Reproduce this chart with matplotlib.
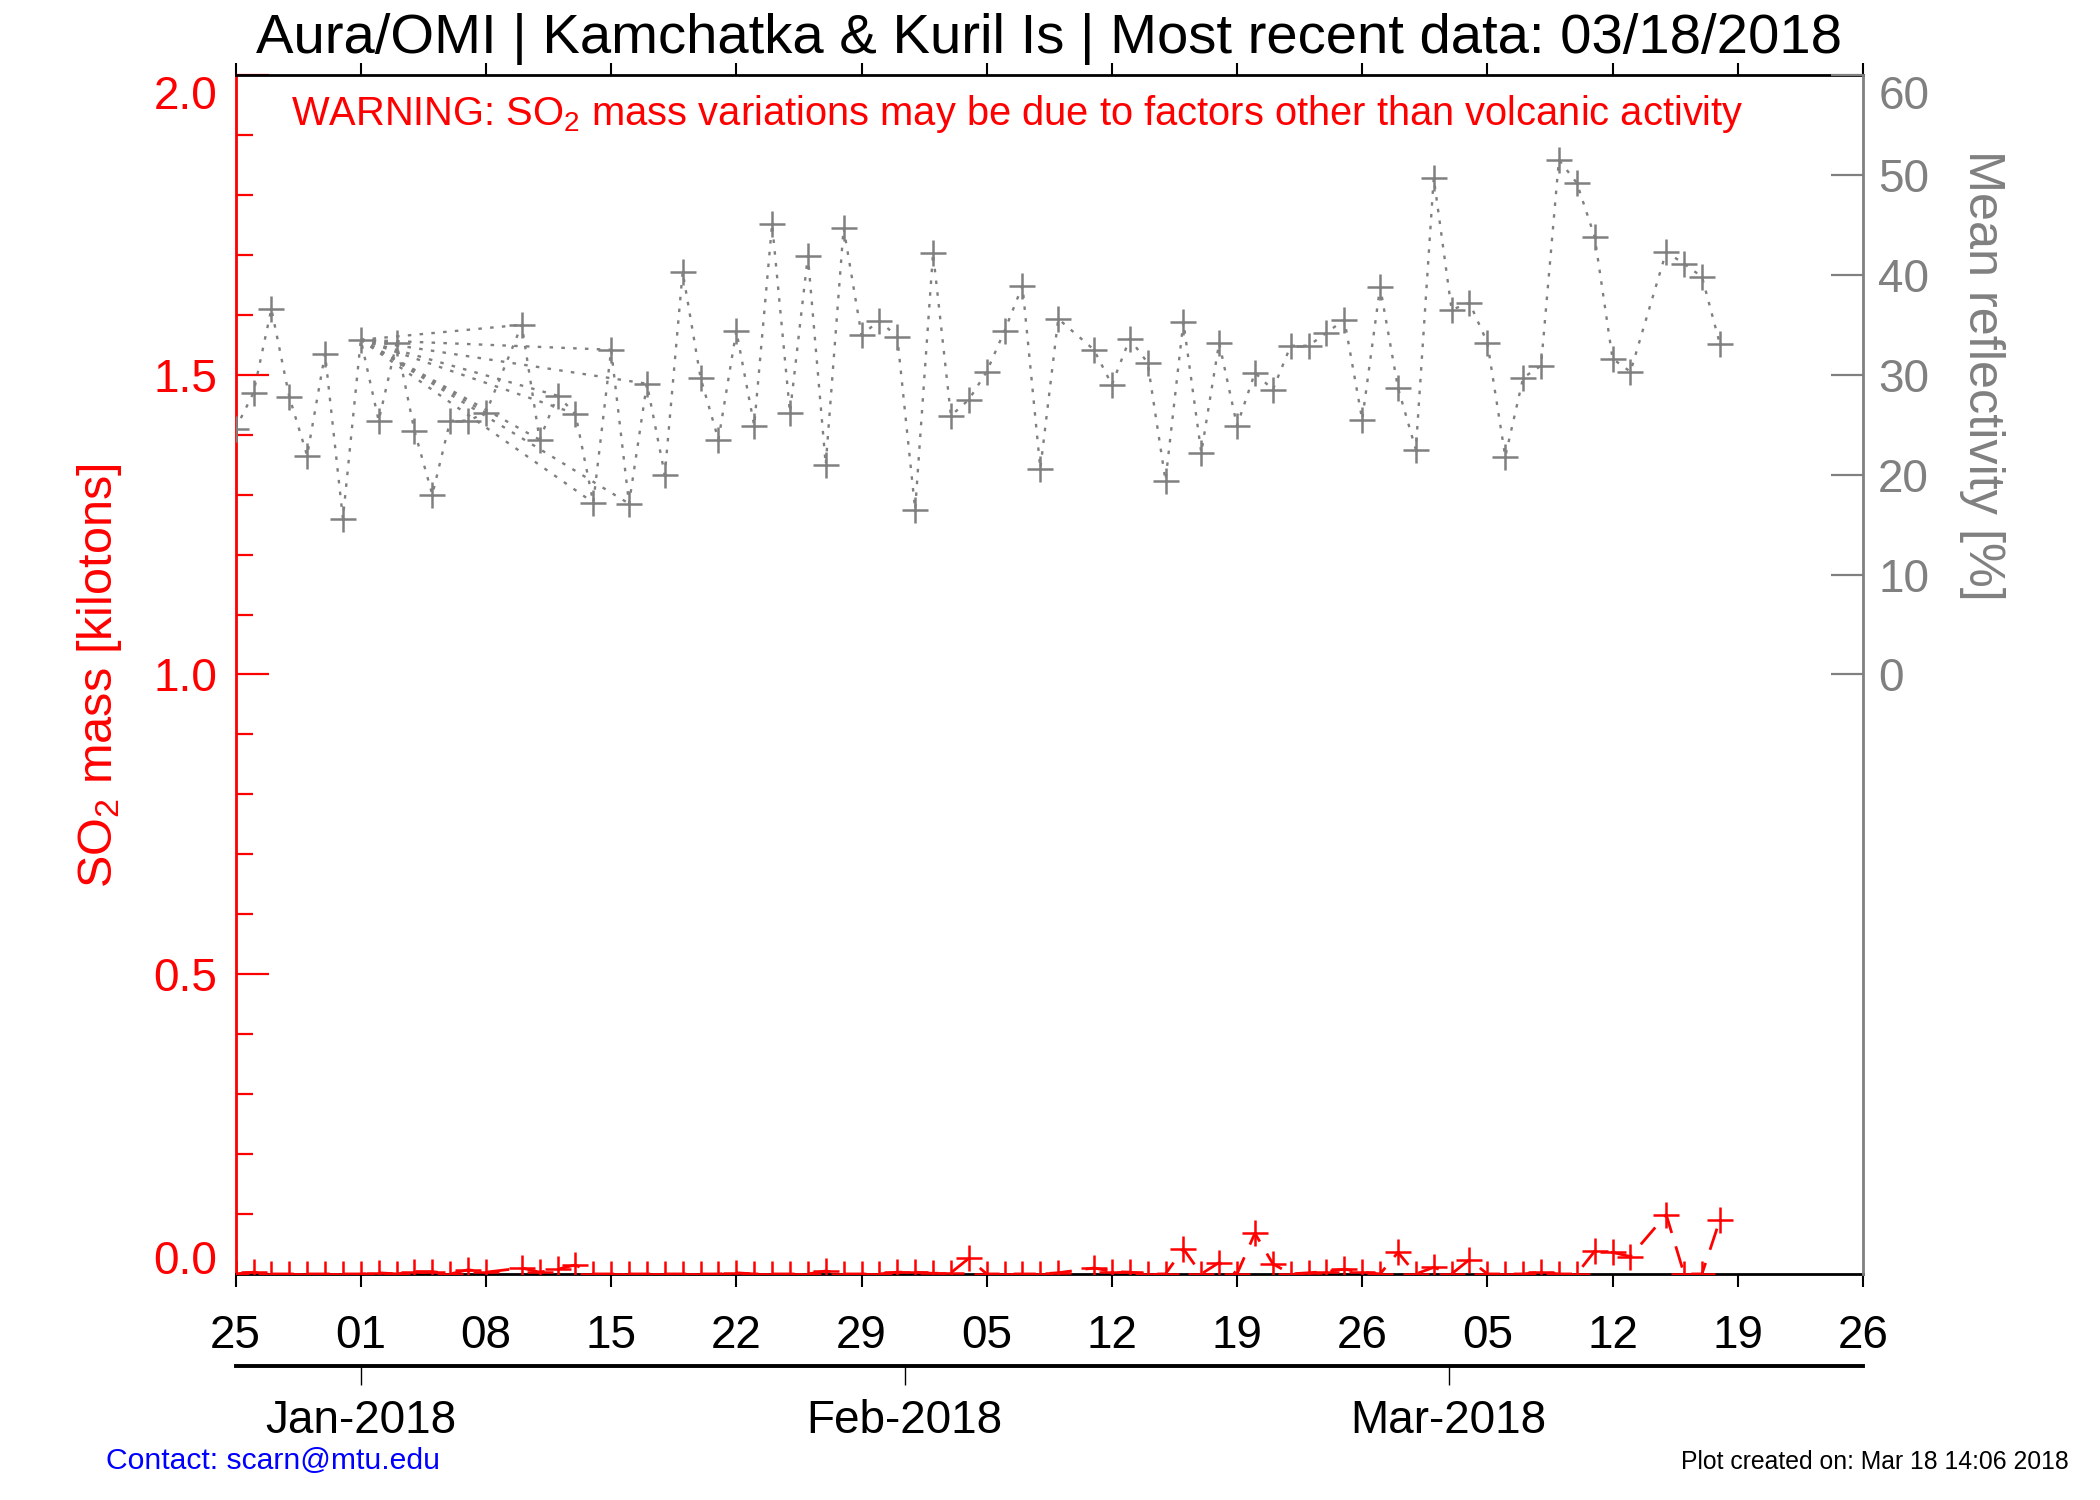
import datetime as dt

import matplotlib
matplotlib.use("Agg")

import matplotlib.pyplot as plt
import numpy as np


plt.rcParams["font.family"] = ["Liberation Sans", "DejaVu Sans"]
plt.rcParams["mathtext.fontset"] = "custom"
plt.rcParams["mathtext.rm"] = "Liberation Sans"
plt.rcParams["mathtext.it"] = "Liberation Sans:italic"
plt.rcParams["mathtext.bf"] = "Liberation Sans:bold"


# -----------------------------
# Data
# -----------------------------
obs_dates = (
    ["2017-12-%02d" % d for d in range(25, 32)]
    + ["2018-01-%02d" % d for d in range(1, 32) if d != 9]
    + ["2018-02-%02d" % d for d in range(1, 29) if d != 10]
    + ["2018-03-%02d" % d for d in range(1, 19) if d != 14]
)

# mean reflectivity [%]
reflectivity = [
    24.6, 28.2, 36.6, 27.8, 21.9, 32.1, 15.6,
    33.5, 25.4, 33.2, 24.4, 18.0, 25.4, 25.4, 26.2, 35.0, 23.5,
    27.9, 26.1, 17.2, 32.5, 17.1, 29.1, 20.0, 40.3, 29.7, 23.5,
    34.4, 24.9, 45.1, 26.2, 41.9, 21.0, 44.7, 34.0, 35.4, 33.8,
    16.5, 42.2, 25.9, 27.5, 30.3, 34.4, 38.9, 20.6, 35.6, 32.5,
    29.0, 33.6, 31.2, 19.4, 35.3, 22.2, 33.2, 24.9, 30.2, 28.5,
    32.9, 32.9, 34.2, 35.5, 25.5, 38.8, 28.7,
    22.5, 49.7, 36.5, 37.2, 33.2, 21.8, 29.7, 30.9, 51.5, 49.2,
    43.8, 31.6, 30.3, 42.3, 41.1, 39.8, 33.1,
]

# SO2 mass [kilotons]
so2_mass = [
    0.0, 0.003, 0.0, 0.0, 0.0, 0.0, 0.0,
    0.0, 0.002, 0.0, 0.004, 0.004, 0.0, 0.007, 0.003, 0.010, 0.003,
    0.008, 0.015, 0.0, 0.0, 0.0, 0.0, 0.0, 0.0, 0.0, 0.0,
    0.002, 0.0, 0.0, 0.0, 0.0, 0.005, 0.0, 0.0, 0.0, 0.003,
    0.003, 0.001, 0.002, 0.026, 0.0, 0.0, 0.0, 0.0, 0.002, 0.010,
    0.004, 0.003, 0.0, 0.0, 0.042, 0.0, 0.019, 0.0, 0.068, 0.017,
    0.0, 0.002, 0.004, 0.008, 0.003, 0.0, 0.036,
    0.0, 0.011, 0.0, 0.024, 0.0, 0.0, 0.0, 0.003, 0.0, 0.0,
    0.038, 0.036, 0.029, 0.099, 0.0, 0.0, 0.090,
]

# extra reflectivity segments drawn from one day to several later days
fan_origin = "2018-01-01"
fan_targets = [
    "2018-01-03", "2018-01-08", "2018-01-10", "2018-01-11", "2018-01-12",
    "2018-01-13", "2018-01-14", "2018-01-15", "2018-01-16", "2018-01-17",
]

x_start = "2017-12-25"
x_end = "2018-03-26"
so2_ticks = [0.0, 0.5, 1.0, 1.5, 2.0]
refl_ticks = [0, 10, 20, 30, 40, 50, 60]
month_labels = ["Jan-2018", "Feb-2018", "Mar-2018"]
month_index = [0, 1, 2]  # months after Jan 2018

title = "Aura/OMI | Kamchatka & Kuril Is | Most recent data: 03/18/2018"
warning = (r"WARNING: SO$_{\mathrm{2}}$ mass variations may be due to factors "
           "other than volcanic activity")


def to_date(s):
    return dt.datetime.strptime(s, "%Y-%m-%d")


def dec_year(d):
    jan1 = dt.datetime(d.year, 1, 1)
    return d.year + (d - jan1).days / 365.0


def main():
    dates = [to_date(s) for s in obs_dates]
    refl = np.array(reflectivity)
    so2 = np.array(so2_mass)
    d0, d1 = to_date(x_start), to_date(x_end)

    fig = plt.figure(figsize=(21, 15), dpi=100)
    L, B, W, H = 0.1122, 0.1507, 0.7749, 0.7993
    ax = fig.add_axes([L, B, W, H])
    ax2 = ax.twinx()

    # SO2 mass (red)
    ax.plot(dates, so2, color="red", lw=2.0, ls=(0, (8, 5)),
            marker="+", ms=19, mew=1.8, zorder=3)
    ax.set_ylim(0, 2.0)
    ax.set_xlim(d0, d1)
    ax.set_yticks(so2_ticks)
    ax.set_yticklabels(["%.1f" % v for v in so2_ticks])
    ax.set_yticks(np.arange(0, 2.0001, 0.1), minor=True)
    ax.tick_params(axis="y", which="major", direction="in", colors="red",
                   length=24, width=1.6, labelsize=33, pad=13)
    ax.tick_params(axis="y", which="minor", direction="in", colors="red",
                   length=12, width=1.6)
    ylabels = ax.get_yticklabels()
    ylabels[0].set_va("baseline")
    ylabels[-1].set_va("top")

    weekly = [d0 + dt.timedelta(days=7 * k) for k in range(14)]
    ax.set_xticks(weekly)
    ax.set_xticklabels([w.strftime("%d") for w in weekly])
    ax.tick_params(axis="x", which="major", direction="out", top=True,
                   length=9, width=1.5, labelsize=33, pad=20, colors="black")

    ax.spines["left"].set_color("red")
    ax.spines["left"].set_linewidth(2)
    ax.spines["right"].set_visible(False)
    ax.spines["top"].set_linewidth(2)
    ax.spines["bottom"].set_linewidth(2)

    # mean reflectivity (gray)
    dotted = (0, (1.5, 3.5))
    ax2.plot(dates, refl, color="gray", lw=1.7, ls=dotted,
             marker="+", ms=19, mew=1.8)
    i0 = obs_dates.index(fan_origin)
    for t in fan_targets:
        i1 = obs_dates.index(t)
        ax2.plot([dates[i0], dates[i1]], [refl[i0], refl[i1]],
                 color="gray", lw=1.7, ls=dotted)
    ax2.set_ylim(-60, 60)
    ax2.set_yticks(refl_ticks)
    ax2.set_yticklabels([str(v) for v in refl_ticks])
    ax2.tick_params(axis="y", direction="in", colors="gray", length=23,
                    width=1.6, labelsize=33, pad=11)
    ax2.get_yticklabels()[-1].set_va("top")
    for s in ["left", "top", "bottom"]:
        ax2.spines[s].set_visible(False)
    ax2.spines["right"].set_color("gray")
    ax2.spines["right"].set_linewidth(2)

    # month axis below
    axm = fig.add_axes([L, 0.0893, W, 0.0005])
    axm.patch.set_visible(False)
    axm.set_xlim(dec_year(d0), dec_year(d1))
    axm.set_xticks([2018 + m / 12.0 for m in month_index])
    axm.set_xticklabels(month_labels)
    axm.set_yticks([])
    for s in ["left", "right", "top"]:
        axm.spines[s].set_visible(False)
    axm.spines["bottom"].set_linewidth(2.8)
    axm.tick_params(axis="x", direction="out", length=14, width=1,
                    labelsize=33, pad=10)

    # texts
    fig.text(L + W / 2, 1 - 52.7 / 1500, title, ha="center", va="baseline",
             fontsize=40.5)
    fig.text(291 / 2100, 1 - 125 / 1500, warning, ha="left", va="baseline",
             fontsize=28.7, color="red")
    fig.text(100 / 2100, 1 - 676 / 1500, r"SO$_{\mathrm{2}}$ mass [kilotons]",
             rotation=90, ha="center", va="center", fontsize=35, color="red")
    fig.text(1982 / 2100, 1 - 375 / 1500, "Mean reflectivity [%]",
             rotation=270, ha="center", va="center", fontsize=36.3, color="gray")
    fig.text(106 / 2100, 1 - 1469 / 1500, "Contact: scarn@mtu.edu",
             ha="left", va="baseline", fontsize=21.7, color="blue")
    fig.text(2069 / 2100, 1 - 1469 / 1500, "Plot created on: Mar 18 14:06 2018",
             ha="right", va="baseline", fontsize=17.8, color="black")

    fig.savefig("out.png", dpi=100)
    plt.close(fig)


if __name__ == "__main__":
    main()
